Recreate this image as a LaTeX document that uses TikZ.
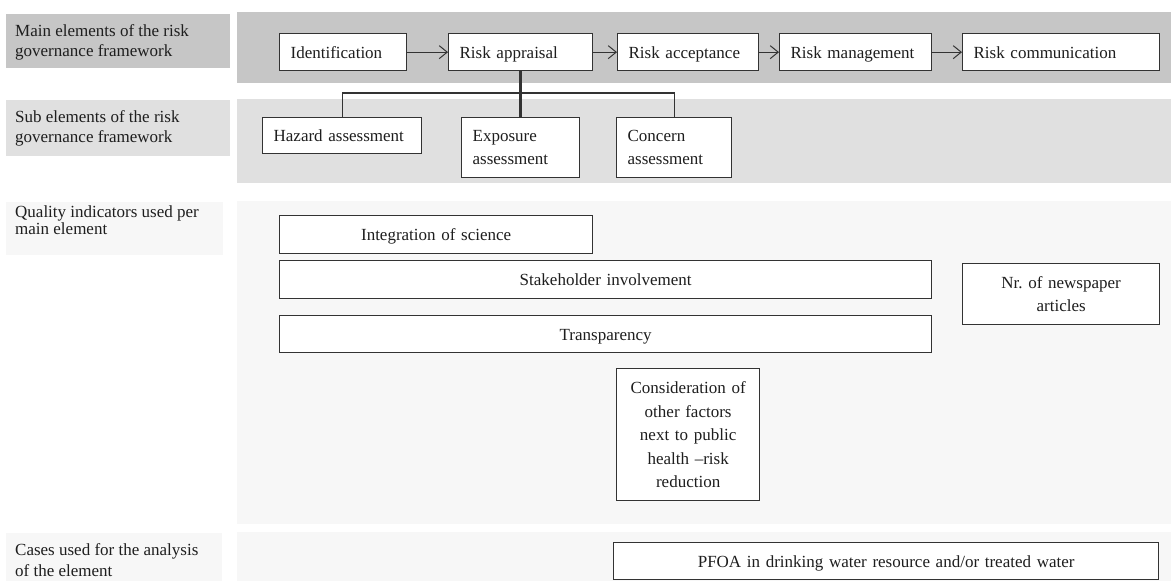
\documentclass[tikz,border=0pt]{standalone}
\usepackage{fontspec}
\setmainfont{Liberation Serif}
\usetikzlibrary{arrows.meta}
\definecolor{bandA}{HTML}{C6C6C6}
\definecolor{bandB}{HTML}{E0E0E0}
\definecolor{bandC}{HTML}{F7F7F7}
\definecolor{edge}{HTML}{333333}
\definecolor{ink}{HTML}{1E1E1E}
\tikzset{
  lbl/.style={inner sep=0pt, align=left, text=ink, font=\fontsize{17}{20}\selectfont},
  lbox/.style={draw=edge, line width=1.3pt, fill=white, anchor=north west, inner xsep=11pt, inner ysep=0pt, align=left, text=ink, font=\fontsize{17}{23}\selectfont},
  cbox/.style={draw=edge, line width=1.3pt, fill=white, anchor=north west, inner xsep=4pt, inner ysep=0pt, align=center, text=ink, font=\fontsize{17}{23.5}\selectfont},
  oneline/.style={text height=14pt, text depth=2pt},
  arr/.style={draw=edge, line width=1pt, -{Straight Barb[length=8pt,width=13pt,line width=1pt]}},
  conn/.style={draw=edge, line width=1.3pt},
}
\begin{document}
\begin{tikzpicture}[x=1pt,y=-1pt]
\useasboundingbox (0,0) rectangle (1171,581);
% bands and side labels
\fill[bandA] (6,14) rectangle (230,68);
\fill[bandA] (237,12) rectangle (1171,83);
\fill[bandB] (6,100) rectangle (230,156);
\fill[bandB] (237,99) rectangle (1171,183);
\fill[bandC] (6,202) rectangle (223,255);
\fill[bandC] (237,201) rectangle (1171,524);
\fill[bandC] (6,533) rectangle (222,581);
\fill[bandC] (237,532) rectangle (1171,581);
\node[lbl, anchor=west] (l1) at (15,42) {Main elements of the risk\\governance framework};
\node[lbl, anchor=west] (l2) at (15,128) {Sub elements of the risk\\governance framework};
\node[lbl, anchor=north west, font=\fontsize{17}{17}\selectfont] (l3) at (15,206) {Quality indicators used per\\main element};
\node[lbl, anchor=west, font=\fontsize{17}{21}\selectfont] (l4) at (15,560) {Cases used for the analysis\\of the element};
% main elements
\node[lbox, oneline, text width=105pt, minimum height=37pt] (ident) at (279,33) {Identification};
\node[lbox, oneline, text width=122pt, minimum height=37pt] (appr) at (448,33) {Risk appraisal};
\node[lbox, oneline, text width=119pt, minimum height=37pt] (accept) at (617,33) {Risk acceptance};
\node[lbox, oneline, text width=130pt, minimum height=37pt] (manage) at (779,33) {Risk management};
\node[lbox, oneline, text width=175pt, minimum height=37pt] (comm) at (962,33) {Risk communication};
\draw[arr] (ident) -- (appr);
\draw[arr] (appr) -- (accept);
\draw[arr] (accept) -- (manage);
\draw[arr] (manage) -- (comm);
% sub elements
\node[lbox, oneline, text width=137pt, minimum height=36pt] (hazard) at (262,117) {Hazard assessment};
\node[lbox, text width=96pt, minimum height=60pt] (expo) at (461,117) {Exposure\\assessment};
\node[lbox, text width=93pt, minimum height=60pt] (concern) at (616,117) {Concern\\assessment};
\coordinate (j) at (520,93);
\draw[conn] (hazard.north) |- (j) -| (concern.north);
\draw[draw=edge, line width=2.4pt] (appr.south) -- (expo.north);
% quality indicators
\node[cbox, oneline, text width=305pt, minimum height=38pt] (integ) at (279,215) {Integration of science};
\node[cbox, oneline, text width=644pt, minimum height=38pt] (stake) at (279,260) {Stakeholder involvement};
\node[cbox, oneline, text width=644pt, minimum height=37pt] (transp) at (279,315) {Transparency};
\node[cbox, text width=189pt, minimum height=61pt] (nr) at (962,263) {Nr.\ of newspaper\\articles};
\node[cbox, text width=135pt, minimum height=132pt] (consid) at (616,368) {Consideration of\\other factors\\next to public\\health --risk\\reduction};
% cases
\node[cbox, oneline, text width=537pt, minimum height=37pt] (pfoa) at (613,542) {PFOA in drinking water resource and/or treated water};
\end{tikzpicture}
\end{document}
